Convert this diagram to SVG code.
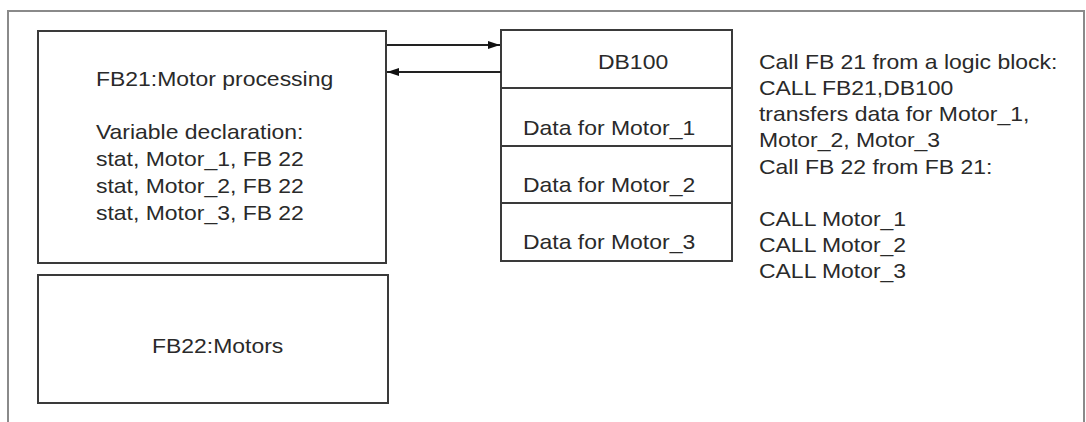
<svg xmlns="http://www.w3.org/2000/svg" width="1086" height="422" viewBox="0 0 1086 422">
  <style>
    .frame { fill: none; stroke: #8a8a8a; stroke-width: 2; }
    .box { fill: #ffffff; stroke: #3a3a3a; stroke-width: 2; }
    .div { stroke: #3a3a3a; stroke-width: 1.8; }
    .conn { stroke: #222; stroke-width: 2; fill: none; }
    text { font-family: "Liberation Sans", Arial, sans-serif; font-size: 20.5px; fill: #2a2a2a; }
  </style>
  <defs>
    <marker id="arr" viewBox="0 0 12 8" refX="12" refY="4" markerWidth="12" markerHeight="8" markerUnits="userSpaceOnUse" orient="auto">
      <path d="M0,0 L12,4 L0,8 Z" fill="#111"/>
    </marker>
  </defs>
  <rect x="0" y="0" width="1086" height="422" fill="#ffffff"/>
  <rect class="frame" x="8" y="11" width="1076" height="430"/>

  <g id="fb21">
    <rect class="box" x="38" y="31" width="348" height="232"/>
    <text transform="translate(96,86) scale(1.12,1)">FB21:Motor processing</text>
    <text transform="translate(96,139) scale(1.12,1)">Variable declaration:</text>
    <text transform="translate(96,166) scale(1.12,1)">stat, Motor_1, FB 22</text>
    <text transform="translate(96,193) scale(1.12,1)">stat, Motor_2, FB 22</text>
    <text transform="translate(96,220) scale(1.12,1)">stat, Motor_3, FB 22</text>
  </g>

  <g id="fb22">
    <rect class="box" x="38" y="275" width="350" height="128"/>
    <text transform="translate(152,353) scale(1.12,1)">FB22:Motors</text>
  </g>

  <g id="db100">
    <rect class="box" x="501" y="30" width="231" height="231"/>
    <line class="div" x1="501" y1="88" x2="732" y2="88"/>
    <line class="div" x1="501" y1="146" x2="732" y2="146"/>
    <line class="div" x1="501" y1="203" x2="732" y2="203"/>
    <text transform="translate(598,69) scale(1.12,1)">DB100</text>
    <text transform="translate(523,135) scale(1.12,1)">Data for Motor_1</text>
    <text transform="translate(523,192) scale(1.12,1)">Data for Motor_2</text>
    <text transform="translate(523,249) scale(1.12,1)">Data for Motor_3</text>
  </g>

  <g id="notes">
    <text transform="translate(759,69) scale(1.12,1)">Call FB 21 from a logic block:</text>
    <text transform="translate(759,95) scale(1.12,1)">CALL FB21,DB100</text>
    <text transform="translate(759,121) scale(1.12,1)">transfers data for Motor_1,</text>
    <text transform="translate(759,147) scale(1.12,1)">Motor_2, Motor_3</text>
    <text transform="translate(759,174) scale(1.12,1)">Call FB 22 from FB 21:</text>
    <text transform="translate(759,226) scale(1.12,1)">CALL Motor_1</text>
    <text transform="translate(759,252) scale(1.12,1)">CALL Motor_2</text>
    <text transform="translate(759,278) scale(1.12,1)">CALL Motor_3</text>
  </g>

  <g id="connectors">
    <line class="conn" x1="387" y1="45" x2="500" y2="45" marker-end="url(#arr)"/>
    <line class="conn" x1="501" y1="72" x2="387" y2="72" marker-end="url(#arr)"/>
  </g>
</svg>
